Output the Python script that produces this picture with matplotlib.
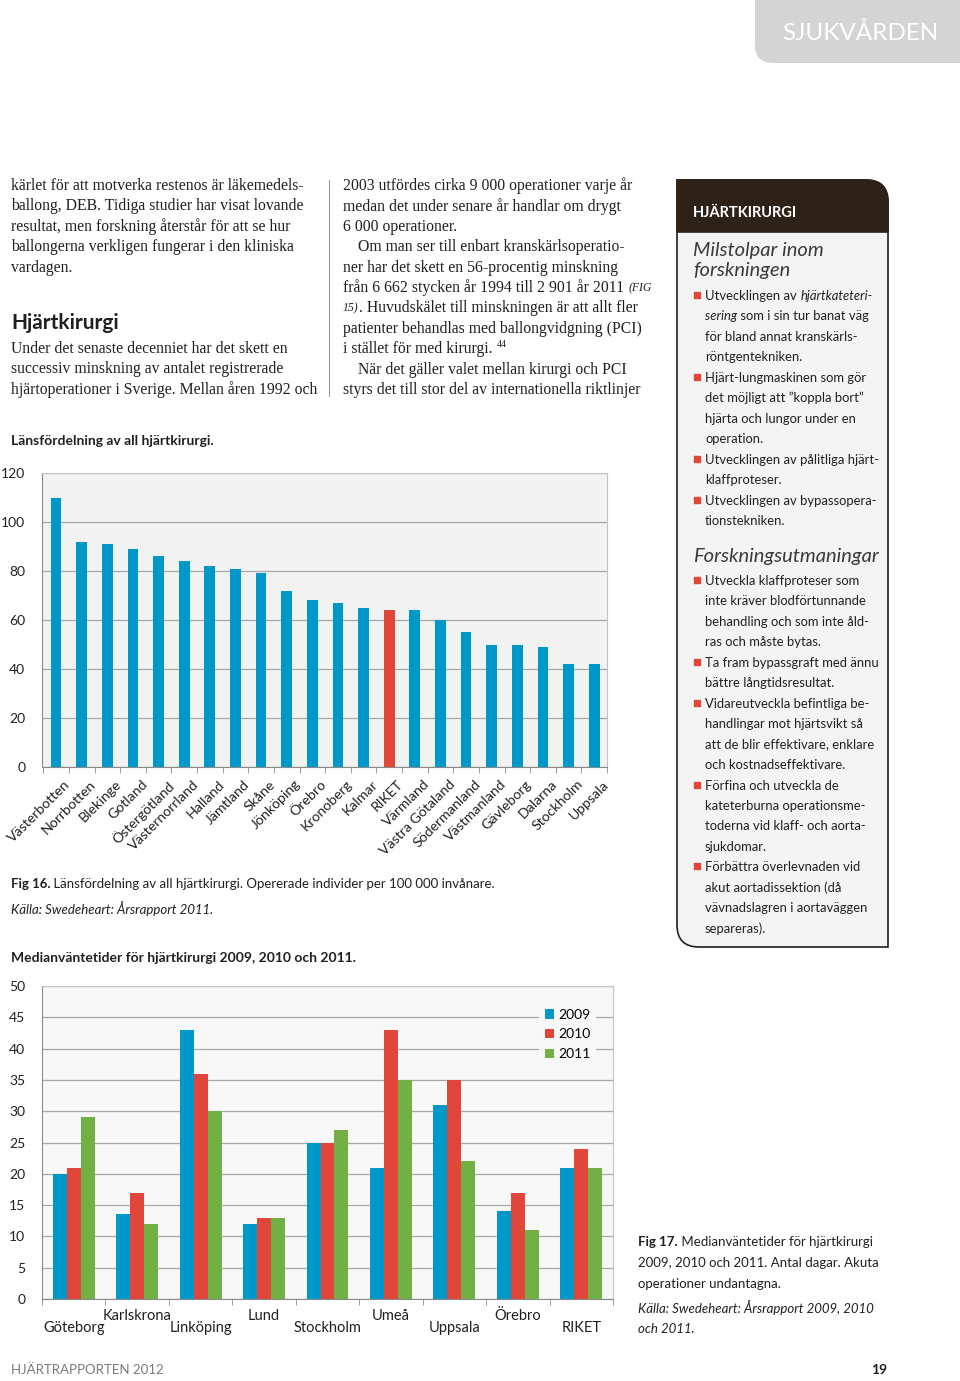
import matplotlib
matplotlib.use("Agg")
import matplotlib.pyplot as plt
import matplotlib.transforms as mtransforms
from matplotlib.path import Path
from matplotlib.patches import PathPatch
import numpy as np

# --- data -------------------------------------------------------------
# Fig 16: operated individuals per 100 000 inhabitants, per county
lan = ["Västerbotten", "Norrbotten", "Blekinge", "Gotland", "Östergötland",
       "Västernorrland", "Halland", "Jämtland", "Skåne", "Jönköping", "Örebro",
       "Kronoberg", "Kalmar", "RIKET", "Värmland", "Västra Götaland",
       "Södermanland", "Västmanland", "Gävleborg", "Dalarna", "Stockholm",
       "Uppsala"]
lan_varde = [110, 92, 91, 89, 86, 84, 82, 81, 79, 72, 68, 67, 65, 64, 64, 60,
             55, 50, 50, 49, 42, 42]

# Fig 17: median waiting time (days)
kliniker = ["Göteborg", "Karlskrona", "Linköping", "Lund", "Stockholm",
            "Umeå", "Uppsala", "Örebro", "RIKET"]
vt_2009 = [20, 13.5, 43, 12, 25, 21, 31, 14, 21]
vt_2010 = [21, 17, 36, 13, 25, 43, 35, 17, 24]
vt_2011 = [29, 12, 30, 13, 27, 35, 22, 11, 21]
aar = ["2009", "2010", "2011"]

BLUE = "#0098c8"
RED = "#e0473a"
GREEN = "#72b046"
INK = "#231f20"
SANS = "Lato"
SERIF = "Liberation Serif"

W, H = 960, 1381
fig = plt.figure(figsize=(9.6, 13.81), dpi=100)
bg = fig.add_axes([0, 0, 1, 1])
bg.set_xlim(0, W)
bg.set_ylim(H, 0)
bg.axis("off")
renderer = fig.canvas.get_renderer()


def width_of(txt, **kw):
    a = bg.text(0, 0, txt + "|", **kw)
    b = bg.text(0, 0, "|", **kw)
    w = a.get_window_extent(renderer).width - b.get_window_extent(renderer).width
    a.remove()
    b.remove()
    return w


def line(x, y, parts, size=11.3, family=SERIF, color=INK):
    # parts: list of (text, extra kwargs)
    for txt, kw in parts:
        opts = dict(fontsize=size, family=family, color=color, va="center", ha="left")
        opts.update(kw)
        bg.text(x, y, txt, **opts)
        x += width_of(txt, **{k: v for k, v in opts.items() if k not in ("va", "ha", "color")})
    return x


def rounded(x0, y0, x1, y1, tl=0, tr=0, br=0, bl=0):
    verts = [(x0 + tl, y0), (x1 - tr, y0), (x1, y0), (x1, y0 + tr),
             (x1, y1 - br), (x1, y1), (x1 - br, y1),
             (x0 + bl, y1), (x0, y1), (x0, y1 - bl),
             (x0, y0 + tl), (x0, y0), (x0 + tl, y0), (x0 + tl, y0)]
    codes = [Path.MOVETO, Path.LINETO, Path.CURVE3, Path.CURVE3,
             Path.LINETO, Path.CURVE3, Path.CURVE3,
             Path.LINETO, Path.CURVE3, Path.CURVE3,
             Path.LINETO, Path.CURVE3, Path.CURVE3, Path.CLOSEPOLY]
    return Path(verts, codes)


# --- page furniture ---------------------------------------------------
bg.add_patch(PathPatch(rounded(755, -5, 965, 63, bl=18), fc="#d4d4d4", ec="none"))
bg.text(860, 33, "SJUKVÅRDEN", fontsize=17.5, family=SANS, color="white",
        ha="center", va="center")

# left column
left_lines = [
    "kärlet för att motverka restenos är läkemedels-",
    "ballong, DEB. Tidiga studier har visat lovande",
    "resultat, men forskning återstår för att se hur",
    "ballongerna verkligen fungerar i den kliniska",
    "vardagen.",
]
for i, t in enumerate(left_lines):
    line(11, 186 + i * 20.4, [(t, {})])
bg.text(11, 323, "Hjärtkirurgi", fontsize=15, family=SANS, fontweight="bold",
        color=INK, va="center")
for i, t in enumerate(["Under det senaste decenniet har det skett en",
                       "successiv minskning av antalet registrerade",
                       "hjärtoperationer i Sverige. Mellan åren 1992 och"]):
    line(11, 349 + i * 20.4, [(t, {})])
bg.plot([329, 329], [180, 396], color="#9a9a9a", lw=0.8)

# middle column
mid = [
    (343, [("2003 utfördes cirka 9 000 operationer varje år", {})]),
    (343, [("medan det under senare år handlar om drygt", {})]),
    (343, [("6 000 operationer.", {})]),
    (358, [("Om man ser till enbart kranskärlsoperatio-", {})]),
    (343, [("ner har det skett en 56-procentig minskning", {})]),
    (343, [("från 6 662 stycken år 1994 till 2 901 år 2011 ", {}),
           ("(FIG", {"style": "italic", "fontsize": 8.5})]),
    (343, [("15)", {"style": "italic", "fontsize": 8.5}),
           (". Huvudskälet till minskningen är att allt fler", {})]),
    (343, [("patienter behandlas med ballongvidgning (PCI)", {})]),
    (343, [("i stället för med kirurgi. ", {}), ("44", {"fontsize": 7, "va": "bottom"})]),
    (358, [("När det gäller valet mellan kirurgi och PCI", {})]),
    (343, [("styrs det till stor del av internationella riktlinjer", {})]),
]
for i, (x, parts) in enumerate(mid):
    line(x, 186 + i * 20.4, parts)

# side box
bg.add_patch(PathPatch(rounded(677, 180, 888, 947, tr=22, bl=22),
                       fc="#f4f4f4", ec=INK, lw=1.2))
bg.add_patch(PathPatch(rounded(677, 180, 888, 232, tr=22),
                       fc="#2e2117", ec="#2e2117", lw=1.2))
bg.text(693, 213, "HJÄRTKIRURGI", fontsize=10.5, family=SANS, fontweight="bold",
        color="white", va="center")
for y, t in [(250, "Milstolpar inom"), (270, "forskningen"), (556, "Forskningsutmaningar")]:
    bg.text(693, y, t, fontsize=14.5, family=SANS, style="italic", fontweight="normal",
            color="#3a3a3a", va="center")

side1 = [
    [("Utvecklingen av ", {}), ("hjärtkateteri-", {"style": "italic"})],
    [("sering", {"style": "italic"}), (" som i sin tur banat väg", {})],
    [("för bland annat kranskärls-", {})],
    [("röntgentekniken.", {})],
    [("Hjärt-lungmaskinen som gör", {})],
    [("det möjligt att ”koppla bort”", {})],
    [("hjärta och lungor under en", {})],
    [("operation.", {})],
    [("Utvecklingen av pålitliga hjärt-", {})],
    [("klaffproteser.", {})],
    [("Utvecklingen av bypassopera-", {})],
    [("tionstekniken.", {})],
]
bullets1 = [0, 4, 8, 10]
side2 = [
    "Utveckla klaffproteser som", "inte kräver blodförtunnande",
    "behandling och som inte åld-", "ras och måste bytas.",
    "Ta fram bypassgraft med ännu", "bättre långtidsresultat.",
    "Vidareutveckla befintliga be-", "handlingar mot hjärtsvikt så",
    "att de blir effektivare, enklare", "och kostnadseffektivare.",
    "Förfina och utveckla de", "kateterburna operationsme-",
    "toderna vid klaff- och aorta-", "sjukdomar.",
    "Förbättra överlevnaden vid", "akut aortadissektion (då",
    "vävnadslagren i aortaväggen", "separeras).",
]
bullets2 = [0, 4, 6, 10, 14]
for i, parts in enumerate(side1):
    y = 296 + i * 20.45
    line(705, y, parts, size=9.4, family=SANS)
    if i in bullets1:
        bg.scatter([697], [y - 1], marker="s", s=18, color=RED)
for i, t in enumerate(side2):
    y = 581 + i * 20.45
    line(705, y, [(t, {})], size=9.4, family=SANS)
    if i in bullets2:
        bg.scatter([697], [y - 1], marker="s", s=18, color=RED)

# --- Fig 16 -----------------------------------------------------------
bg.text(11, 441, "Länsfördelning av all hjärtkirurgi.", fontsize=10, family=SANS,
        fontweight="bold", color=INK, va="center")

ax1 = fig.add_axes([42 / W, 1 - 767 / H, (607 - 42) / W, (767 - 473) / H])
x1 = np.arange(len(lan))
farger = [RED if n == "RIKET" else BLUE for n in lan]
ax1.bar(x1, lan_varde, width=0.42, color=farger, zorder=3)
ax1.set_xlim(-0.55, len(lan) - 0.5)
ax1.set_ylim(0, 120)
ax1.set_yticks(np.arange(0, 121, 20))
ax1.set_facecolor("#f2f2f2")
ax1.grid(axis="y", color="#a8a8a8", lw=0.9, zorder=0)
ax1.set_axisbelow(True)
ax1.set_xticks(x1)
ax1.set_xticklabels(lan, rotation=45, ha="right", rotation_mode="anchor",
                    fontsize=10.2, family=SANS, color=INK)
ax1.set_xticks(np.arange(-0.5, len(lan), 1), minor=True)
ax1.tick_params(axis="x", which="major", length=0, pad=8)
ax1.tick_params(axis="x", which="minor", length=4, color="#8a8a8a")
ax1.tick_params(axis="y", length=0, pad=12, labelsize=10, labelcolor=INK)
for lab in ax1.get_yticklabels():
    lab.set_family(SANS)
nudge = mtransforms.ScaledTranslation(8 / 100, 0, fig.dpi_scale_trans)
for lab in ax1.get_xticklabels():
    lab.set_transform(lab.get_transform() + nudge)
for s in ("top", "right"):
    ax1.spines[s].set_color("#c4c4c4")
for s in ("left", "bottom"):
    ax1.spines[s].set_color("#8a8a8a")

line(11, 884, [("Fig 16.", {"fontweight": "bold"}),
               (" Länsfördelning av all hjärtkirurgi. Opererade individer per 100 000 invånare.", {})],
     size=9.5, family=SANS)
bg.text(11, 909, "Källa: Swedeheart: Årsrapport 2011.", fontsize=9.5, family=SANS,
        style="italic", color=INK, va="center")

# --- Fig 17 -----------------------------------------------------------
bg.text(11, 958, "Medianväntetider för hjärtkirurgi 2009, 2010 och 2011.", fontsize=10,
        family=SANS, fontweight="bold", color=INK, va="center")

ax2 = fig.add_axes([42 / W, 1 - 1299 / H, (613 - 42) / W, (1299 - 986) / H])
x2 = np.arange(len(kliniker))
bw = 0.22
for k, (serie, col) in enumerate(zip([vt_2009, vt_2010, vt_2011], [BLUE, RED, GREEN])):
    ax2.bar(x2 + (k - 1) * bw, serie, width=bw, color=col, label=aar[k], zorder=3)
ax2.set_xlim(-0.5, len(kliniker) - 0.5)
ax2.set_ylim(0, 50)
ax2.set_yticks(np.arange(0, 51, 5))
ax2.set_facecolor("#f8f8f8")
ax2.grid(axis="y", color="#a8a8a8", lw=0.9, zorder=0)
ax2.set_axisbelow(True)
ax2.set_xticks(x2)
ax2.set_xticklabels(kliniker, fontsize=10.5, family=SANS, color=INK)
ax2.set_xticks(np.arange(-0.5, len(kliniker), 1), minor=True)
ax2.tick_params(axis="x", which="major", length=0, pad=7)
ax2.tick_params(axis="x", which="minor", length=4, color="#8a8a8a")
ax2.tick_params(axis="y", length=0, pad=12, labelsize=10, labelcolor=INK)
for lab in ax2.get_yticklabels():
    lab.set_family(SANS)
shift = mtransforms.ScaledTranslation(0, -12 / 100, fig.dpi_scale_trans)
for i, lab in enumerate(ax2.get_xticklabels()):
    if i % 2 == 0:
        lab.set_transform(lab.get_transform() + shift)
for s in ("top", "right"):
    ax2.spines[s].set_color("#c4c4c4")
for s in ("left", "bottom"):
    ax2.spines[s].set_color("#8a8a8a")
leg = ax2.legend(loc="upper right", bbox_to_anchor=(0.97, 0.945), frameon=True,
                 prop={"family": SANS, "size": 10}, handlelength=0.65,
                 handleheight=0.65, handletextpad=0.3, labelspacing=0.55,
                 borderpad=0.4, borderaxespad=0.0)
leg.get_frame().set_facecolor("#f8f8f8")
leg.get_frame().set_edgecolor("none")
leg.get_frame().set_alpha(1)

cap = ["Medianväntetider för hjärtkirurgi", "2009, 2010 och 2011. Antal dagar. Akuta",
       "operationer undantagna."]
line(638, 1242, [("Fig 17.", {"fontweight": "bold"}), (" " + cap[0], {})], size=9.5, family=SANS)
line(638, 1263, [(cap[1], {})], size=9.5, family=SANS)
line(638, 1284, [(cap[2], {})], size=9.5, family=SANS)
bg.text(638, 1308, "Källa: Swedeheart: Årsrapport 2009, 2010", fontsize=9.5, family=SANS,
        style="italic", color=INK, va="center")
bg.text(638, 1329, "och 2011.", fontsize=9.5, family=SANS, style="italic", color=INK,
        va="center")

# footer
bg.text(11, 1370, "HJÄRTRAPPORTEN 2012", fontsize=9.5, family=SANS, color="#7a7a7a",
        va="center")
bg.text(887, 1370, "19", fontsize=10, family=SANS, fontweight="bold", color=INK,
        va="center", ha="right")

fig.savefig("out.png", dpi=100)
